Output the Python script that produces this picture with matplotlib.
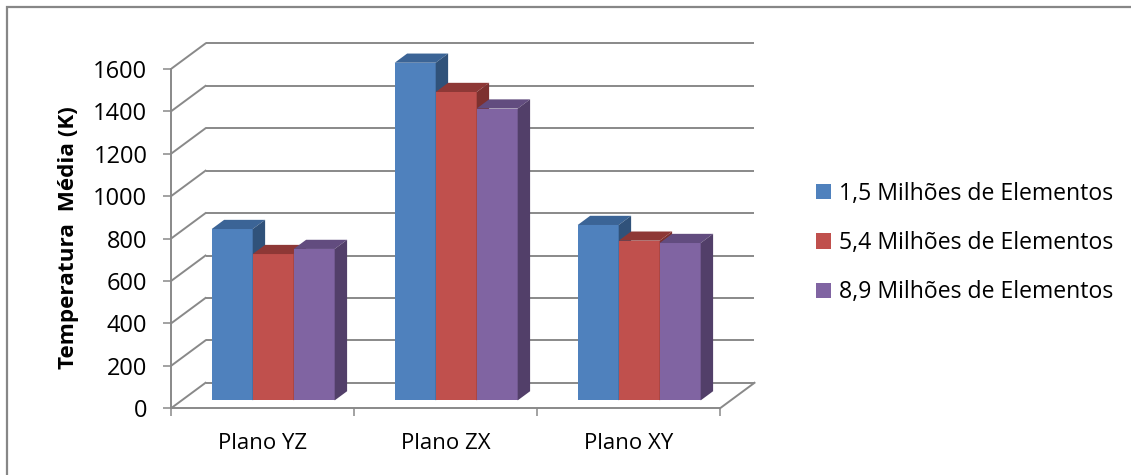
import matplotlib
matplotlib.use("Agg")
import matplotlib.pyplot as plt
from matplotlib.patches import Polygon, Patch, Rectangle

plt.rcParams["font.family"] = ["Open Sans", "DejaVu Sans"]

# dados
categorias = ["Plano YZ", "Plano ZX", "Plano XY"]
series = ["1,5 Milhões de Elementos", "5,4 Milhões de Elementos", "8,9 Milhões de Elementos"]
temp_15 = [808, 1592, 827]
temp_54 = [690, 1454, 753]
temp_89 = [714, 1376, 742]
valores = [temp_15, temp_54, temp_89]
yticks = list(range(0, 1601, 200))

cor_frente = ["#4F81BD", "#C0504D", "#8064A2"]
cor_topo = ["#3B6496", "#8E3836", "#624C7F"]
cor_lado = ["#30527A", "#7D312F", "#523F69"]
cinza = "#898989"

W, H = 1131, 475
X0_PX, CAT_PX = 171.0, 183.0       # eixo frontal e largura de uma categoria
Y0_PX, VAL_PX = 408.3, 0.2121      # linha do zero e px por unidade
DX = 34.5 / CAT_PX                  # deslocamento da profundidade total
DY = 25.5 / VAL_PX
XMAX, YMIN, YMAX = 3.3, -60, 1800

fig = plt.figure(figsize=(W / 100, H / 100), dpi=100)
left = X0_PX
right = X0_PX + XMAX * CAT_PX
bottom = Y0_PX - YMIN * VAL_PX
top = Y0_PX - YMAX * VAL_PX
ax = fig.add_axes([left / W, 1 - bottom / H, (right - left) / W, (bottom - top) / H])
ax.set_xlim(0, XMAX)
ax.set_ylim(YMIN, YMAX)
ax.patch.set_visible(False)

# moldura do grafico
fig.patches.append(Rectangle((6.7 / W, -0.1), 1.2, 1 - 6.7 / H + 0.1,
                             transform=fig.transFigure, fill=False,
                             edgecolor="#878787", linewidth=1.6))

# paredes: linhas de grade ao fundo e diagonais na lateral
ncat = len(categorias)
for v in yticks:
    ax.plot([DX, ncat + DX], [v + DY, v + DY], color=cinza, lw=1.4, zorder=1,
            solid_capstyle="butt")
    ax.plot([0, DX], [v, v + DY], color=cinza, lw=1.4, zorder=1)
ax.plot([ncat, ncat + DX], [0, DY], color=cinza, lw=1.4, zorder=1)

# barras 3D
larg = 0.224
gap = 1 - 3 * larg
d_frente, d_fundo = 0.31, 0.67
prof = d_fundo - d_frente
for i, vals in enumerate(valores):
    for j, v in enumerate(vals):
        x0 = j + gap / 2 + i * larg + d_frente * DX
        y0 = d_frente * DY
        ax.bar(x0, v, width=larg, bottom=y0, align="edge",
               color=cor_frente[i], zorder=3 + i)
        topo = [(x0, y0 + v), (x0 + larg, y0 + v),
                (x0 + larg + prof * DX, y0 + v + prof * DY),
                (x0 + prof * DX, y0 + v + prof * DY)]
        lado = [(x0 + larg, y0), (x0 + larg, y0 + v),
                (x0 + larg + prof * DX, y0 + v + prof * DY),
                (x0 + larg + prof * DX, y0 + prof * DY)]
        ax.add_patch(Polygon(topo, closed=True, facecolor=cor_topo[i],
                             edgecolor="none", zorder=3 + i))
        ax.add_patch(Polygon(lado, closed=True, facecolor=cor_lado[i],
                             edgecolor="none", zorder=3 + i))

# eixos
for s in ["top", "right"]:
    ax.spines[s].set_visible(False)
ax.spines["left"].set_bounds(0, 1600)
ax.spines["bottom"].set_position(("data", 0))
ax.spines["bottom"].set_bounds(0, ncat)
for s in ["left", "bottom"]:
    ax.spines[s].set_color(cinza)
    ax.spines[s].set_linewidth(1.4)
    ax.spines[s].set_zorder(2)

ax.set_yticks(yticks)
ax.set_yticklabels([str(t) for t in yticks])
ax.tick_params(axis="y", direction="out", length=5.5, width=1.1, color=cinza,
               pad=11.5, labelsize=17)
ax.set_xticks(range(ncat + 1))
ax.set_xticklabels([""] * (ncat + 1))
ax.set_xticks([j + 0.5 for j in range(ncat)], minor=True)
ax.set_xticklabels(categorias, minor=True)
ax.tick_params(axis="x", which="major", direction="out", length=6, width=1.1,
               color=cinza)
ax.tick_params(axis="x", which="minor", length=0, pad=18, labelsize=16)

fig.text(69 / W, 1 - 238 / H, "Temperatura  Média (K)", rotation=90,
         ha="center", va="center", fontsize=16.2, fontweight="bold")

handles = [Patch(facecolor=c, edgecolor="none") for c in cor_frente]
fig.legend(handles, series, loc="center left",
           bbox_to_anchor=(807 / W, 1 - 243 / H), frameon=False, fontsize=16.6,
           handlelength=0.64, handleheight=0.64, handletextpad=0.35,
           labelspacing=1.1, borderaxespad=0)

fig.savefig("out.png", dpi=100)
